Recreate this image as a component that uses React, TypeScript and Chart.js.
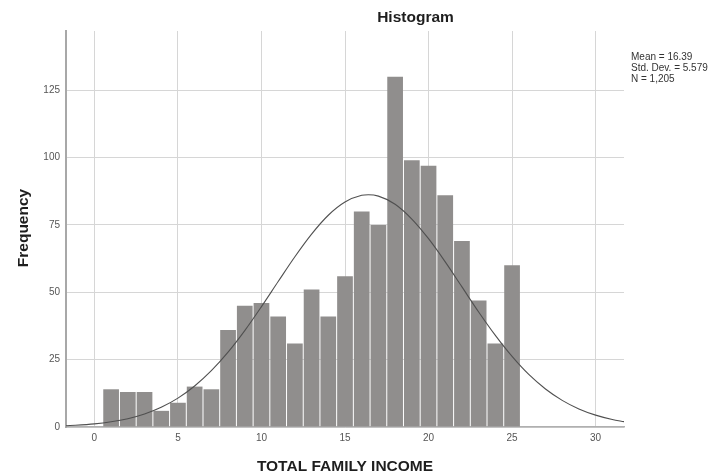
import React, { useEffect, useRef } from "react";
import { Chart, registerables } from "chart.js";

Chart.register(...registerables);

// Histogram bins (bin centres) and frequencies
const bins = [1, 2, 3, 4, 5, 6, 7, 8, 9, 10, 11, 12, 13, 14, 15, 16, 17, 18, 19, 20, 21, 22, 23, 24, 25];
const freq = [14, 13, 13, 6, 9, 15, 14, 36, 45, 46, 41, 31, 51, 41, 56, 80, 75, 130, 99, 97, 86, 69, 47, 31, 60];

// Normal curve overlay
const curveX = [-1.7, 0, 1, 2, 3, 4, 5, 6, 7, 8, 9, 10, 11, 12, 13, 14, 15, 16, 16.4, 17, 18, 19, 20, 21, 22, 23, 24, 25, 26, 27, 28, 29, 30, 31, 31.7];
const curveY = [0.45, 1.15, 1.92, 3.09, 4.84, 7.32, 10.72, 15.22, 20.9, 27.8, 35.8, 44.7, 54.0, 63.2, 71.6, 78.6, 83.5, 86.0, 86.2, 85.7, 82.7, 77.2, 69.9, 61.3, 52.0, 42.7, 34.0, 26.2, 19.5, 14.1, 9.88, 6.7, 4.4, 2.79, 2.0];

// Text
const chartTitle = "Histogram";
const xTitle = "TOTAL FAMILY INCOME";
const yTitle = "Frequency";
const statsLines = ["Mean = 16.39", "Std. Dev. = 5.579", "N = 1,205"];

const FONT = '"Liberation Sans", Arial, sans-serif';

const textPlugin = {
  id: "spssText",
  afterDraw(chart: any) {
    const ctx = chart.ctx;
    const area = chart.chartArea;
    ctx.save();
    ctx.fillStyle = "#1e1e1e";
    ctx.font = `bold 15.5px ${FONT}`;
    ctx.textAlign = "center";
    ctx.textBaseline = "middle";
    ctx.fillText(chartTitle, 415.5, 18);
    ctx.fillText(xTitle, (area.left + area.right) / 2, 467);
    ctx.save();
    ctx.translate(24, (area.top + area.bottom) / 2 - 1);
    ctx.rotate(-Math.PI / 2);
    ctx.fillText(yTitle, 0, 0);
    ctx.restore();
    ctx.font = `10px ${FONT}`;
    ctx.fillStyle = "#333333";
    ctx.textAlign = "left";
    statsLines.forEach((s, i) => ctx.fillText(s, 631, 57 + i * 11));
    ctx.restore();
  },
};

export default function App() {
  const ref = useRef<HTMLCanvasElement>(null);
  useEffect(() => {
    if (!ref.current) return;
    const chart = new Chart(ref.current, {
      type: "bar",
      data: {
        datasets: [
          {
            type: "line",
            data: curveX.map((x, i) => ({ x, y: curveY[i] })),
            borderColor: "#505050",
            borderWidth: 1.1,
            pointRadius: 0,
            fill: false,
            cubicInterpolationMode: "monotone",
            order: 0,
          } as any,
          {
            type: "bar",
            data: bins.map((b, i) => ({ x: b, y: freq[i] })),
            backgroundColor: "#908e8d",
            borderWidth: 0,
            barPercentage: 1,
            categoryPercentage: 0.94,
            order: 1,
          } as any,
        ],
      },
      options: {
        animation: false,
        responsive: false,
        layout: { padding: { left: 0, top: 31, right: 90, bottom: 0 } },
        plugins: { legend: { display: false }, tooltip: { enabled: false }, title: { display: false } },
        scales: {
          x: {
            type: "linear",
            min: -1.7,
            max: 31.7,
            offset: false,
            afterFit: (s: any) => { s.height = 49; },
            grid: { offset: false, color: "#d6d6d6", drawTicks: false, lineWidth: 1 },
            border: { display: true, color: "#b0b0b0", width: 1.5 },
            ticks: {
              stepSize: 5,
              includeBounds: false,
              padding: 5,
              color: "#555555",
              font: { family: FONT, size: 10 },
              maxRotation: 0,
            },
          },
          y: {
            type: "linear",
            min: 0,
            max: 147,
            afterFit: (s: any) => { s.width = 66; },
            grid: { color: "#d6d6d6", drawTicks: false, lineWidth: 1 },
            border: { display: true, color: "#a8a8a8", width: 2 },
            ticks: {
              stepSize: 25,
              includeBounds: false,
              padding: 6,
              color: "#555555",
              font: { family: FONT, size: 10 },
            },
          },
        },
      } as any,
      plugins: [textPlugin],
    });
    return () => chart.destroy();
  }, []);
  return (
    <div style={{ position: "absolute", left: 0, top: 0, width: 714, height: 476, background: "#ffffff" }}>
      <canvas ref={ref} width={714} height={476} style={{ width: 714, height: 476 }} />
    </div>
  );
}
